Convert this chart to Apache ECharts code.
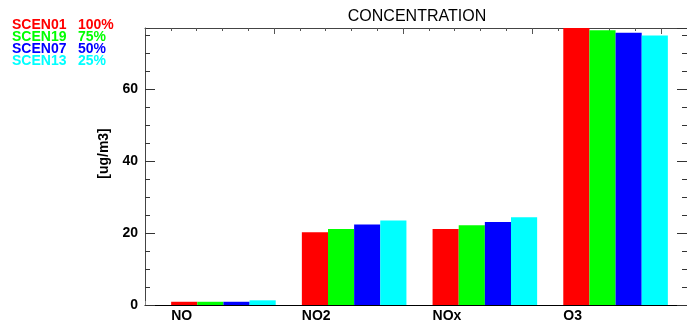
<!DOCTYPE html>
<html>
<head>
<meta charset="utf-8">
<script src="https://cdn.jsdelivr.net/npm/echarts@6/dist/echarts.min.js"></script>
<style>
  html, body { margin: 0; padding: 0; background: #ffffff; }
  #chart { width: 687px; height: 324px; }
</style>
</head>
<body>
<div id="chart"></div>
<script>
// Species on the x axis
const categories = ['NO', 'NO2', 'NOx', 'O3'];
// Scenario names and their emission percentages
const scenarios = ['SCEN01', 'SCEN19', 'SCEN07', 'SCEN13'];
const percents = ['100%', '75%', '50%', '25%'];
// Concentrations [ug/m3] per scenario, in category order
const scen01 = [0.9, 20.2, 21.1, 77.0];
const scen19 = [0.9, 21.1, 22.2, 76.4];
const scen07 = [0.9, 22.4, 23.1, 75.7];
const scen13 = [1.3, 23.5, 24.4, 74.9];
const seriesValues = [scen01, scen19, scen07, scen13];
const colors = ['#ff0000', '#00ff00', '#0000ff', '#00ffff'];

const yMax = 77;
const FONT = "'Liberation Sans', Arial, Helvetica, sans-serif";

// Frame geometry: 21 bar-width units across, 5 units per category band
const frameLeft = 145, frameWidth = 549, plotTop = 28, plotHeight = 277;
const unit = frameWidth / 21;

const chart = echarts.init(document.getElementById('chart'), null, { renderer: 'canvas' });

const frameLine = { show: true, onZero: false, lineStyle: { color: '#444', width: 1 } };
const hiddenLine = { show: false, onZero: false };
const noLabel = { show: false };

const option = {
  animation: false,
  backgroundColor: '#ffffff',
  title: {
    text: 'CONCENTRATION',
    left: 412, top: 4, textAlign: 'center',
    textStyle: { fontFamily: FONT, fontSize: 16, fontWeight: 'normal', color: '#000' }
  },
  legend: {
    orient: 'vertical', left: 7, top: 18,
    itemWidth: 0, itemHeight: 12, itemGap: -2,
    icon: 'rect',
    selectedMode: false,
    padding: 0,
    data: scenarios.map((s, i) => ({
      name: s + ' ' + percents[i],
      itemStyle: { opacity: 0 },
      textStyle: { color: colors[i] }
    })),
    formatter: name => {
      const parts = name.split(' ');
      return '{n|' + parts[0] + '}{p|' + parts[1] + '}';
    },
    textStyle: {
      fontFamily: FONT, fontSize: 14, fontWeight: 'bold', lineHeight: 12,
      rich: {
        n: { width: 66, fontFamily: FONT, fontSize: 14, fontWeight: 'bold', lineHeight: 12 },
        p: { fontFamily: FONT, fontSize: 14, fontWeight: 'bold', lineHeight: 12 }
      }
    }
  },
  grid: [
    // major-tick frame
    { left: frameLeft, width: frameWidth, top: plotTop, height: plotHeight },
    // minor-tick frame
    { left: frameLeft, width: frameWidth, top: plotTop, height: plotHeight },
    // bars
    { left: frameLeft + unit / 2, width: unit * 20, top: plotTop, height: plotHeight }
  ],
  xAxis: [
    { gridIndex: 0, type: 'value', position: 'bottom', min: 0, max: 21, interval: 5,
      axisLine: { show: true, onZero: false, lineStyle: { color: '#000', width: 1 } },
      axisTick: { show: true, inside: true, length: 4, lineStyle: { color: '#888' } },
      axisLabel: noLabel, splitLine: { show: false } },
    { gridIndex: 0, type: 'value', position: 'top', min: 0, max: 21, interval: 5,
      axisLine: frameLine,
      axisTick: { show: true, inside: true, length: 6, lineStyle: { color: '#555' } },
      axisLabel: noLabel, splitLine: { show: false } },
    { gridIndex: 1, type: 'value', position: 'top', min: 0, max: 21, interval: 1,
      axisLine: hiddenLine,
      axisTick: { show: true, inside: true, length: 3, lineStyle: { color: '#555' } },
      axisLabel: noLabel, splitLine: { show: false } },
    { gridIndex: 2, type: 'category', data: categories,
      axisLine: hiddenLine, axisTick: { show: false }, axisLabel: noLabel,
      splitLine: { show: false } }
  ],
  yAxis: [
    { gridIndex: 0, type: 'value', position: 'left', min: 0, max: yMax, interval: 20,
      axisLine: frameLine,
      axisTick: { show: true, inside: true, length: 10, lineStyle: { color: '#333' } },
      axisLabel: { show: true, margin: 7, showMaxLabel: false, color: '#000',
        fontFamily: FONT, fontSize: 14, fontWeight: 'bold' },
      splitLine: { show: false },
      name: '[ug/m3]', nameLocation: 'middle', nameGap: 24, nameRotate: 90,
      nameTextStyle: { fontFamily: FONT, fontSize: 14, fontWeight: 'bold', color: '#000',
        padding: [0, 0, 0, 26] } },
    { gridIndex: 0, type: 'value', position: 'right', min: 0, max: yMax, interval: 20,
      axisLine: frameLine,
      axisTick: { show: true, inside: true, length: 10, lineStyle: { color: '#333' } },
      axisLabel: noLabel, splitLine: { show: false } },
    { gridIndex: 1, type: 'value', position: 'left', min: 0, max: yMax, interval: 5,
      axisLine: hiddenLine,
      axisTick: { show: true, inside: true, length: 5, lineStyle: { color: '#333' } },
      axisLabel: noLabel, splitLine: { show: false } },
    { gridIndex: 1, type: 'value', position: 'right', min: 0, max: yMax, interval: 5,
      axisLine: hiddenLine,
      axisTick: { show: true, inside: true, length: 5, lineStyle: { color: '#333' } },
      axisLabel: noLabel, splitLine: { show: false } },
    { gridIndex: 2, type: 'value', min: 0, max: yMax, show: false }
  ],
  series: seriesValues.map((vals, i) => ({
    name: scenarios[i] + ' ' + percents[i],
    type: 'bar',
    xAxisIndex: 3,
    yAxisIndex: 4,
    data: vals,
    barGap: '0%',
    barCategoryGap: '20%',
    itemStyle: { color: colors[i] },
    z: 1,
    // species names sit under the first bar of each group, left-aligned
    label: i === 0 ? {
      show: true, position: 'bottom', distance: 4,
      formatter: '{b}', align: 'left', offset: [-unit / 2, 0],
      color: '#000', fontFamily: FONT, fontSize: 14, fontWeight: 'bold'
    } : { show: false }
  }))
};

chart.setOption(option);
</script>
</body>
</html>
